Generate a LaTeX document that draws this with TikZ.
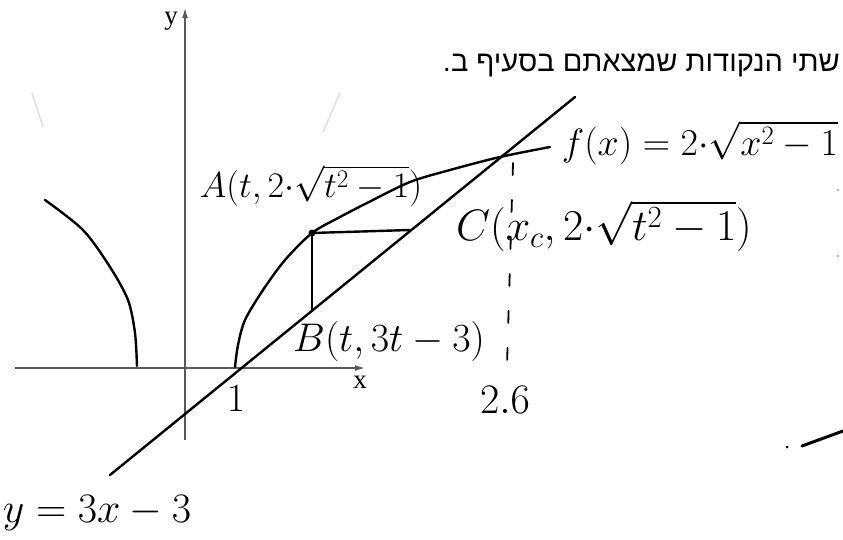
\RequirePackage{fix-cm}
\documentclass[tikz,border=0pt]{standalone}
\usepackage{amsmath}
\usepackage{amssymb}
\usepackage{fontspec}
\usetikzlibrary{arrows.meta}
\newfontfamily\hebfont[Script=Hebrew]{Liberation Sans}
\newfontfamily\axisfont{Liberation Serif}
\TeXXeTstate=1

\begin{document}
\begin{tikzpicture}[x=1pt,y=-1pt,
  every node/.style={inner sep=0pt},
  hand/.style={black,line width=2.4pt,line cap=round,line join=round},
  axis/.style={gray!70!black,line width=1.5pt,-{Latex[length=10pt,width=6pt]}},
  faint/.style={gray!25,line width=1.5pt},
  lab/.style={font=\fontsize{#1}{#1}\selectfont}]
  \useasboundingbox (0,0) rectangle (843,540);

  % axes
  \coordinate (o1) at (15,368);
  \coordinate (o2) at (365,368);
  \coordinate (o3) at (185,440);
  \coordinate (o4) at (185,8);
  \draw[axis] (o1) -- (o2);
  \draw[axis] (o3) -- (o4);
  \node[font=\axisfont\fontsize{27}{27}\selectfont] (ylab) at (171,21) {y};
  \node[font=\axisfont\fontsize{27}{27}\selectfont] (xlab) at (360,382) {x};

  % the two branches
  \draw[hand] plot[smooth] coordinates {(45,200) (83,230) (110,267) (128,300) (135,333) (137,366)};
  \draw[hand] plot[smooth] coordinates {(235,367) (238,345) (245,320) (263,290) (285,260) (312,233)
    (340,217) (367,203) (410,182) (450,170) (500,157) (550,147)};

  \coordinate (pA) at (312,233);
  \coordinate (pB) at (312,311);
  \coordinate (pC) at (410,230);
  \coordinate (l1) at (110,475);
  \coordinate (l2) at (575,97);
  \coordinate (d1) at (513,163);
  \coordinate (d2) at (507,365);
  \fill (pA) circle (3.5pt);
  \path[hand]
  (l1) edge (l2)
  (pA) edge (pC)
  (pA) edge (pB);
  \draw[hand,line width=1.8pt,dash pattern=on 12pt off 25pt] (d1) -- (d2);

  \node[lab=36] (A) at (311,186) {$A(t,2{\cdot}\sqrt{t^2-1})$};
  \node[lab=40] (B) at (389,341) {$B(t,3t-3)$};
  \node[lab=44] (C) at (604,226) {$C(x_c,2{\cdot}\sqrt{t^2-1})$};
  \node[lab=38] (f) at (700,143) {$f(x)=2{\cdot}\sqrt{x^2-1}$};
  \node[lab=40] (one) at (236,399) {$1$};
  \node[lab=42] (two) at (505,400) {$2.6$};
  \node[lab=42] (eq) at (97,513) {$y=3x-3$};

  \node[font=\hebfont\fontsize{29}{33}\selectfont,anchor=base east] (note) at (840,72)
    {\beginR שתי הנקודות שמצאתם בסעיף ב.\endR};

  % leftover marks
  \fill[gray!60] (838,190) circle (1.3pt);
  \fill[gray!60] (838,256) circle (1.3pt);
  \fill (787,447) circle (1.5pt);
  \draw[black,line width=3pt,line cap=round] (802,446) -- (843,431);
  \draw[faint] (32,93) -- (43,127);
  \draw[faint] (340,93) -- (323,132);
\end{tikzpicture}
\end{document}
